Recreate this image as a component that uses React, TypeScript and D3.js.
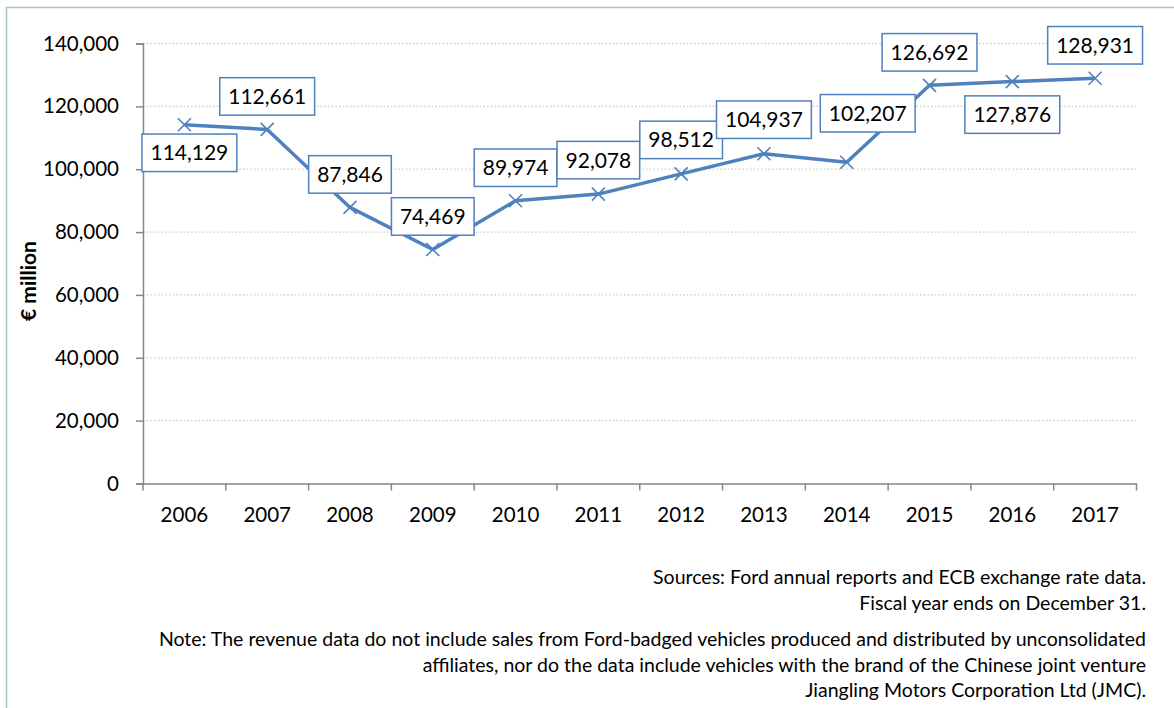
import React, { useEffect, useRef } from "react";
import * as d3 from "d3";

const years = ["2006", "2007", "2008", "2009", "2010", "2011", "2012", "2013", "2014", "2015", "2016", "2017"];
const revenue = [114129, 112661, 87846, 74469, 89974, 92078, 98512, 104937, 102207, 126692, 127876, 128931];
const yTicks = [0, 20000, 40000, 60000, 80000, 100000, 120000, 140000];
const yAxisTitle = "€ million";
const sourceLines = [
  "Sources: Ford annual reports and ECB exchange rate data.",
  "Fiscal year ends on December 31.",
];
const noteLines = [
  "Note: The revenue data do not include sales from Ford-badged vehicles produced and distributed by unconsolidated",
  "affiliates, nor do the data include vehicles with the brand of the Chinese joint venture",
  "Jiangling Motors Corporation Ltd (JMC).",
];

// label placement (offset of label centre from the point), layout only
const labelOffsets: [number, number][] = [
  [5, 28], [0, -33], [0, -33], [0, -33], [0, -33], [0, -34],
  [0, -34], [0, -34], [21, -49], [0, -33], [0, 33], [0, -33],
];

const W = 1174;
const H = 708;
const FONT = "Lato, 'Open Sans', sans-serif";
const BLUE = "#4F81BD";

export default function App() {
  const ref = useRef<SVGSVGElement>(null);

  useEffect(() => {
    const svg = d3.select(ref.current);
    svg.selectAll("*").remove();

    const left = 143, right = 1136.5, top = 43.5, bottom = 483.5;

    // outer frame
    svg.append("rect").attr("x", 6.5).attr("y", 7.5).attr("width", W + 20).attr("height", H + 20)
      .attr("fill", "white").attr("stroke", "#A8C2C6").attr("stroke-width", 1.5);

    const x = d3.scaleBand().domain(years).range([left, right]).padding(0);
    const y = d3.scaleLinear().domain([0, 140000]).range([bottom, top]);

    // gridlines
    svg.append("g").selectAll("line").data(yTicks.filter((t) => t > 0)).join("line")
      .attr("x1", left).attr("x2", right)
      .attr("y1", (d) => y(d)).attr("y2", (d) => y(d))
      .attr("stroke", "#C9C9C9").attr("stroke-width", 1.3).attr("stroke-dasharray", "1.5,2.2");

    // y axis
    const yAxis = svg.append("g").attr("transform", `translate(${left},0)`)
      .call(d3.axisLeft(y).tickValues(yTicks).tickSize(7).tickPadding(17).tickFormat((d) => d3.format(",")(d as number)));
    yAxis.select(".domain").attr("stroke", "#868686").attr("stroke-width", 1.5);
    yAxis.selectAll(".tick line").attr("stroke", "#868686").attr("stroke-width", 1.5);
    yAxis.selectAll(".tick text").attr("font-family", FONT).attr("font-size", 20.5).attr("fill", "#000");

    // x axis
    const xAxis = svg.append("g").attr("transform", `translate(0,${bottom})`)
      .call(d3.axisBottom(x).tickSize(0).tickPadding(24));
    xAxis.select(".domain").attr("stroke", "#868686").attr("stroke-width", 1.5);
    xAxis.selectAll(".tick text").attr("font-family", FONT).attr("font-size", 20.5).attr("fill", "#000");
    const bounds = years.map((yr) => x(yr)!).concat([right]);
    svg.append("g").selectAll("line").data(bounds).join("line")
      .attr("x1", (d) => d).attr("x2", (d) => d)
      .attr("y1", bottom).attr("y2", bottom + 7)
      .attr("stroke", "#868686").attr("stroke-width", 1.5);

    // y title
    svg.append("text").attr("transform", `translate(36,281) rotate(-90)`)
      .attr("text-anchor", "middle").attr("font-family", FONT).attr("font-weight", "bold")
      .attr("font-size", 21).attr("fill", "#000").text(yAxisTitle);

    const cx = (i: number) => x(years[i])! + x.bandwidth() / 2;

    // line
    const line = d3.line<number>().x((_, i) => cx(i)).y((d) => y(d));
    svg.append("path").datum(revenue).attr("d", line).attr("fill", "none")
      .attr("stroke", BLUE).attr("stroke-width", 3.5).attr("stroke-linejoin", "round");

    // markers
    const m = 6.5;
    const mk = svg.append("g");
    revenue.forEach((v, i) => {
      const px = cx(i), py = y(v);
      mk.append("path").attr("d", `M${px - m},${py - m}L${px + m},${py + m}M${px - m},${py + m}L${px + m},${py - m}`)
        .attr("stroke", BLUE).attr("stroke-width", 1.6).attr("fill", "none");
    });

    // labels
    const lg = svg.append("g");
    revenue.forEach((v, i) => {
      const [dx, dy] = labelOffsets[i];
      const lx = cx(i) + dx, ly = y(v) + dy;
      const g = lg.append("g");
      const rect = g.append("rect");
      const t = g.append("text").attr("x", lx).attr("y", ly).attr("dy", "0.36em")
        .attr("text-anchor", "middle").attr("font-family", FONT).attr("font-size", 21)
        .attr("fill", "#000").text(d3.format(",")(v));
      const tw = (t.node() as SVGTextElement).getComputedTextLength();
      const bw = tw + 17, bh = 37.5;
      rect.attr("x", lx - bw / 2).attr("y", ly - bh / 2).attr("width", bw).attr("height", bh)
        .attr("fill", "white").attr("stroke", BLUE).attr("stroke-width", 1.5);
    });

    // footnotes
    const fx = 1146;
    const foot = [...sourceLines.map((s, i) => ({ s, y: 584 + i * 25.5 })), ...noteLines.map((s, i) => ({ s, y: 646 + i * 25.5 }))];
    svg.append("g").selectAll("text").data(foot).join("text")
      .attr("x", fx).attr("y", (d) => d.y).attr("text-anchor", "end")
      .attr("font-family", FONT).attr("font-size", 19.5).attr("fill", "#000")
      .text((d) => d.s);
  }, []);

  return (
    <svg ref={ref} width={W} height={H}
      style={{ position: "absolute", left: 0, top: 0, display: "block", background: "white" }} />
  );
}
